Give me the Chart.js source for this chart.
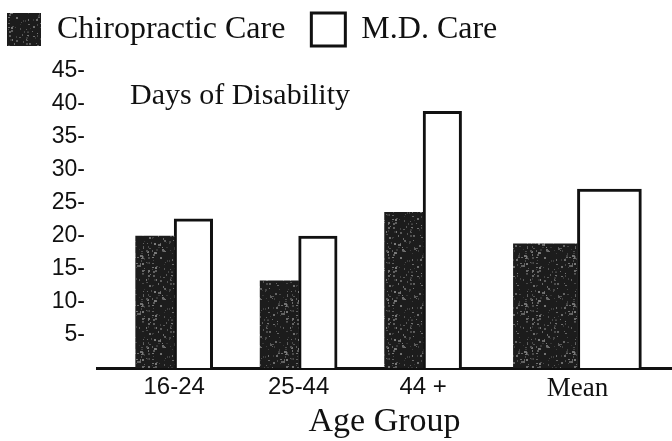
<!DOCTYPE html>
<html>
<head>
<meta charset="utf-8">
<script src="https://cdn.jsdelivr.net/npm/chart.js@4/dist/chart.umd.min.js"></script>
<style>
  html, body { margin: 0; padding: 0; background: #ffffff; }
  #chart { display: block; }
</style>
</head>
<body>
<canvas id="chart" width="672" height="441"></canvas>
<script>
// Days of disability by age group
const ageGroups = ['16-24', '25-44', '44 +', 'Mean'];
const chiropracticDays = [20, 13.2, 23.6, 18.8];
const mdDays = [22.6, 20, 38.9, 27.1];
// where each group sits along the horizontal axis (the summary group is set apart)
const groupSlots = [1, 2, 3, 4.24];
const yMax = 45;
const yStep = 5;

const SERIF = '"Liberation Serif", "Times New Roman", serif';
const SANS = '"Liberation Sans", Arial, sans-serif';
const INK = '#111111';

// dark grainy fill for the chiropractic bars
function grainPattern() {
  const c = document.createElement('canvas');
  c.width = 48; c.height = 48;
  const g = c.getContext('2d');
  g.fillStyle = '#1c1c1c';
  g.fillRect(0, 0, 48, 48);
  let s = 20231;
  const next = () => (s = (Math.imul(s, 1103515245) + 12345) >>> 0) >>> 8;
  for (let k = 0; k < 150; k++) {
    const x = next() % 48, y = next() % 48;
    const shade = 50 + next() % 75;
    g.fillStyle = `rgb(${shade},${shade},${shade})`;
    g.fillRect(x, y, 1 + next() % 2, 1 + next() % 2);
  }
  return g.createPattern(c, 'repeat');
}
const grain = grainPattern();

const isSummary = (g) => g === 'Mean';
const pick = (values, wantSummary) =>
  ageGroups.map((g, i) => ({ x: groupSlots[i], y: isSummary(g) === wantSummary ? values[i] : null }));

const chiroStyle = { backgroundColor: grain, borderColor: '#1a1a1a', borderWidth: 0 };
const mdStyle = { backgroundColor: '#ffffff', borderColor: INK, borderWidth: 3 };

const datasets = [
  Object.assign({ label: 'Chiropractic Care', data: pick(chiropracticDays, false), barThickness: 38.5 }, chiroStyle),
  Object.assign({ label: 'M.D. Care', data: pick(mdDays, false), barThickness: 38.5 }, mdStyle),
  Object.assign({ label: 'Chiropractic Care (mean)', data: pick(chiropracticDays, true), barThickness: 64 }, chiroStyle),
  Object.assign({ label: 'M.D. Care (mean)', data: pick(mdDays, true), barThickness: 64 }, mdStyle)
];

// caption sitting inside the plot, under the top ticks
const captionPlugin = {
  id: 'caption',
  afterDraw(chart) {
    const { ctx, chartArea } = chart;
    ctx.save();
    ctx.font = '30px ' + SERIF;
    ctx.fillStyle = INK;
    ctx.textAlign = 'left';
    ctx.textBaseline = 'alphabetic';
    ctx.fillText('Days of Disability', chartArea.left + 33, chartArea.top + 33);
    ctx.restore();
  }
};

new Chart(document.getElementById('chart'), {
  type: 'bar',
  data: { datasets },
  plugins: [captionPlugin],
  options: {
    responsive: false,
    animation: false,
    devicePixelRatio: 1,
    layout: { padding: { left: -19, top: -13, right: 0, bottom: 0 } },
    datasets: { bar: { skipNull: true, grouped: true } },
    plugins: {
      tooltip: { enabled: false },
      legend: {
        position: 'top',
        align: 'start',
        labels: {
          filter: (item) => item.datasetIndex < 2,
          boxWidth: 34,
          boxHeight: 33,
          padding: 26,
          color: INK,
          font: { family: SERIF, size: 32 }
        }
      },
      // blank spacer between the legend row and the plot
      subtitle: {
        display: true,
        text: ' ',
        weight: 500,
        font: { size: 10, lineHeight: 1 },
        padding: { top: 5, bottom: 0 }
      }
    },
    scales: {
      x: {
        type: 'linear',
        offset: false,
        min: 0.38,
        max: 5.0,
        afterBuildTicks: (axis) => { axis.ticks = groupSlots.map((v) => ({ value: v })); },
        grid: { display: false, drawTicks: false },
        border: { display: true, color: INK, width: 3 },
        ticks: {
          autoSkip: false,
          maxRotation: 0,
          padding: 7,
          color: INK,
          callback: (value, index) => ageGroups[index],
          font: (ctx) => {
            const label = ageGroups[ctx.index];
            return isSummary(label)
              ? { family: SERIF, size: 27, lineHeight: 1 }
              : { family: SANS, size: 24, lineHeight: 1 };
          }
        },
        title: {
          display: true,
          text: 'Age Group',
          color: INK,
          font: { family: SERIF, size: 34, lineHeight: 1 },
          padding: { top: -3.5, bottom: 1.5 }
        }
      },
      y: {
        min: 0,
        max: yMax,
        grid: { display: false, drawTicks: false },
        border: { display: false },
        afterFit: (scale) => { scale.width = 116; },
        ticks: {
          stepSize: yStep,
          padding: 12,
          color: INK,
          font: { family: SANS, size: 23 },
          callback: (v) => (v === 0 ? '' : v + '-')
        }
      }
    }
  }
});
</script>
</body>
</html>
